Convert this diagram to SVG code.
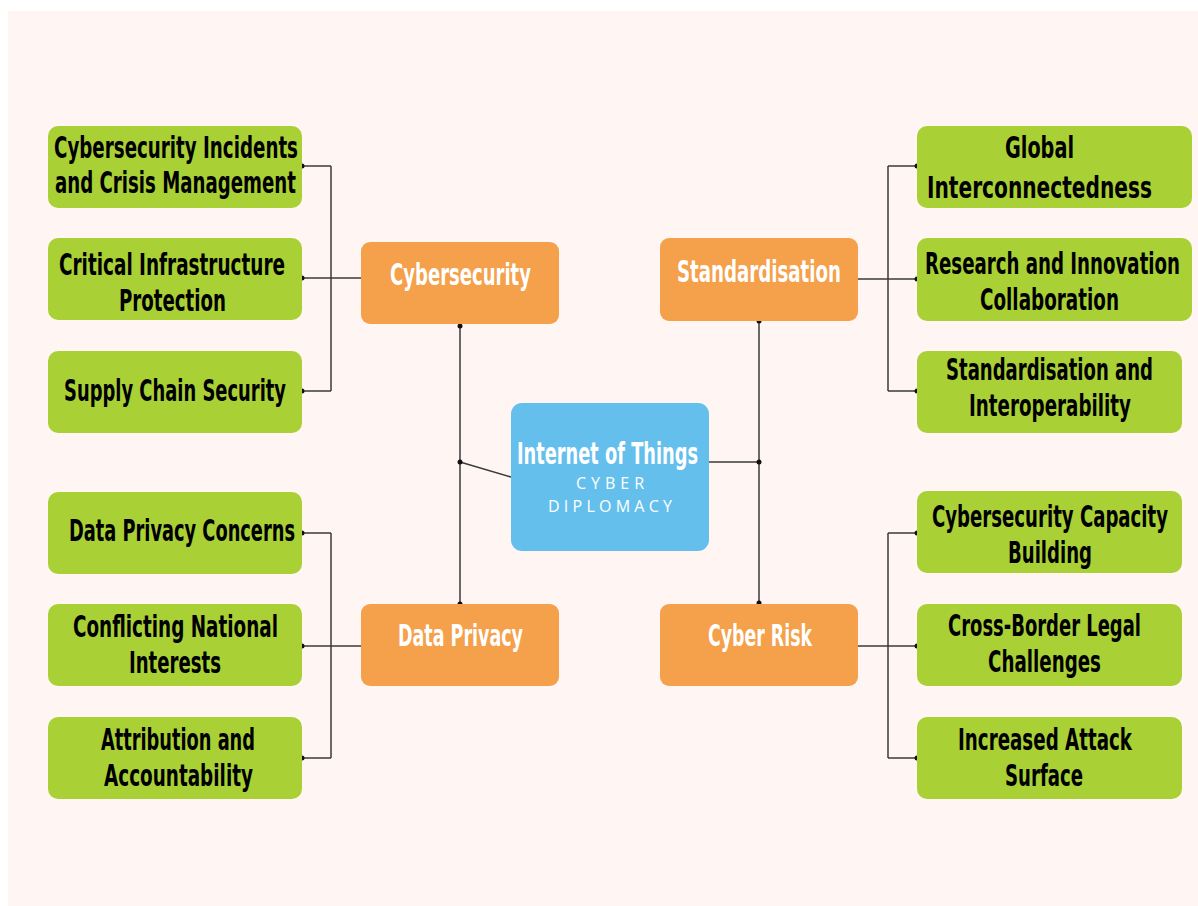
<svg xmlns="http://www.w3.org/2000/svg" width="1198" height="906" viewBox="0 0 1198 906">
<style>
.bg{fill:#FFF6F4}
.g{fill:#A9D136}
.o{fill:#F5A04A}
.b{fill:#65BFEC}
.t{font-family:"Liberation Sans Narrow","DejaVu Sans Condensed","Liberation Sans",sans-serif;font-stretch:condensed;font-weight:bold;font-size:20px}
.k{fill:#000}
.w{fill:#fff}
.s{font-family:"Open Sans","Liberation Sans",sans-serif;font-size:16px;fill:#fff}
.ln{fill:none;stroke:#3a3a3a;stroke-width:1.5}
.dot{fill:#111}
</style>
<rect x="0" y="0" width="1198" height="906" fill="#fff"/>
<rect class="bg" x="8" y="11" width="1190" height="895"/>

<g id="connectors">
<path class="ln" d="M331 166V391M302 166H331M302 278H361M302 391H331"/>
<path class="ln" d="M331 533V758M302 533H331M302 646H361M302 758H331"/>
<path class="ln" d="M888 166V391M888 166H917M858 279H917M888 391H917"/>
<path class="ln" d="M888 533V758M888 533H917M858 646H917M888 758H917"/>
<path class="ln" d="M460 326V604M460 462L511 477M709 462H759M759 321V603"/>
<g class="dot">
<circle cx="302" cy="166" r="2.5"/><circle cx="302" cy="278" r="2.5"/><circle cx="302" cy="391" r="2.5"/>
<circle cx="302" cy="533" r="2.5"/><circle cx="302" cy="646" r="2.5"/><circle cx="302" cy="758" r="2.5"/>
<circle cx="917" cy="166" r="2.5"/><circle cx="917" cy="279" r="2.5"/><circle cx="917" cy="391" r="2.5"/>
<circle cx="917" cy="533" r="2.5"/><circle cx="917" cy="646" r="2.5"/><circle cx="917" cy="758" r="2.5"/>
<circle cx="460" cy="326" r="2.5"/><circle cx="460" cy="604" r="2.5"/><circle cx="460" cy="462" r="2.5"/>
<circle cx="759" cy="462" r="2.5"/><circle cx="759" cy="321" r="2.5"/><circle cx="759" cy="603" r="2.5"/>
</g>
</g>

<g id="center">
<rect class="b" x="511" y="403" width="198" height="148" rx="11"/>
<text class="t w" transform="translate(517 464) scale(1 1.55)" textLength="181" lengthAdjust="spacingAndGlyphs">Internet of Things</text>
<text class="s" x="576" y="489" textLength="68" lengthAdjust="spacing">CYBER</text>
<text class="s" x="548" y="512" textLength="124" lengthAdjust="spacing">DIPLOMACY</text>
</g>

<g id="cybersecurity">
<rect class="o" x="361" y="242" width="198" height="82" rx="9"/>
<text class="t w" transform="translate(390 285) scale(1 1.55)" textLength="141" lengthAdjust="spacingAndGlyphs">Cybersecurity</text>
</g>
<g id="data-privacy">
<rect class="o" x="361" y="604" width="198" height="82" rx="9"/>
<text class="t w" transform="translate(398 646) scale(1 1.55)" textLength="125" lengthAdjust="spacingAndGlyphs">Data Privacy</text>
</g>
<g id="standardisation">
<rect class="o" x="660" y="238" width="198" height="83" rx="9"/>
<text class="t w" transform="translate(677 282) scale(1 1.55)" textLength="164" lengthAdjust="spacingAndGlyphs">Standardisation</text>
</g>
<g id="cyber-risk">
<rect class="o" x="660" y="604" width="198" height="82" rx="9"/>
<text class="t w" transform="translate(708 646) scale(1 1.55)" textLength="104" lengthAdjust="spacingAndGlyphs">Cyber Risk</text>
</g>

<g id="incidents">
<rect class="g" x="48" y="126" width="254" height="82" rx="10"/>
<text class="t k" transform="translate(54 158) scale(1 1.55)" textLength="244" lengthAdjust="spacingAndGlyphs">Cybersecurity Incidents</text>
<text class="t k" transform="translate(55 193) scale(1 1.55)" textLength="241" lengthAdjust="spacingAndGlyphs">and Crisis Management</text>
</g>
<g id="critical-infrastructure">
<rect class="g" x="48" y="238" width="254" height="82" rx="10"/>
<text class="t k" transform="translate(59 275) scale(1 1.55)" textLength="226" lengthAdjust="spacingAndGlyphs">Critical Infrastructure</text>
<text class="t k" transform="translate(119 311) scale(1 1.55)" textLength="107" lengthAdjust="spacingAndGlyphs">Protection</text>
</g>
<g id="supply-chain">
<rect class="g" x="48" y="351" width="254" height="82" rx="10"/>
<text class="t k" transform="translate(64 401) scale(1 1.55)" textLength="222" lengthAdjust="spacingAndGlyphs">Supply Chain Security</text>
</g>
<g id="data-privacy-concerns">
<rect class="g" x="48" y="492" width="254" height="82" rx="10"/>
<text class="t k" transform="translate(69 541) scale(1 1.55)" textLength="226" lengthAdjust="spacingAndGlyphs">Data Privacy Concerns</text>
</g>
<g id="conflicting-interests">
<rect class="g" x="48" y="604" width="254" height="82" rx="10"/>
<text class="t k" transform="translate(73 637) scale(1 1.55)" textLength="205" lengthAdjust="spacingAndGlyphs">Conflicting National</text>
<text class="t k" transform="translate(129 673) scale(1 1.55)" textLength="92" lengthAdjust="spacingAndGlyphs">Interests</text>
</g>
<g id="attribution">
<rect class="g" x="48" y="717" width="254" height="82" rx="10"/>
<text class="t k" transform="translate(101 750) scale(1 1.55)" textLength="154" lengthAdjust="spacingAndGlyphs">Attribution and</text>
<text class="t k" transform="translate(104 786) scale(1 1.55)" textLength="149" lengthAdjust="spacingAndGlyphs">Accountability</text>
</g>

<g id="global-interconnectedness">
<rect class="g" x="917" y="126" width="275" height="82" rx="10"/>
<text class="t k" transform="translate(1005 158) scale(1 1.55)" textLength="69" lengthAdjust="spacingAndGlyphs">Global</text>
<text class="t k" transform="translate(927 198) scale(1 1.55)" textLength="225" lengthAdjust="spacingAndGlyphs">Interconnectedness</text>
</g>
<g id="research-innovation">
<rect class="g" x="917" y="238" width="275" height="83" rx="10"/>
<text class="t k" transform="translate(925 274) scale(1 1.55)" textLength="255" lengthAdjust="spacingAndGlyphs">Research and Innovation</text>
<text class="t k" transform="translate(980 310) scale(1 1.55)" textLength="139" lengthAdjust="spacingAndGlyphs">Collaboration</text>
</g>
<g id="standardisation-interoperability">
<rect class="g" x="917" y="351" width="265" height="82" rx="10"/>
<text class="t k" transform="translate(946 380) scale(1 1.55)" textLength="207" lengthAdjust="spacingAndGlyphs">Standardisation and</text>
<text class="t k" transform="translate(969 416) scale(1 1.55)" textLength="162" lengthAdjust="spacingAndGlyphs">Interoperability</text>
</g>
<g id="capacity-building">
<rect class="g" x="917" y="491" width="265" height="82" rx="10"/>
<text class="t k" transform="translate(932 527) scale(1 1.55)" textLength="236" lengthAdjust="spacingAndGlyphs">Cybersecurity Capacity</text>
<text class="t k" transform="translate(1008 563) scale(1 1.55)" textLength="84" lengthAdjust="spacingAndGlyphs">Building</text>
</g>
<g id="cross-border">
<rect class="g" x="917" y="604" width="265" height="82" rx="10"/>
<text class="t k" transform="translate(948 636) scale(1 1.55)" textLength="193" lengthAdjust="spacingAndGlyphs">Cross-Border Legal</text>
<text class="t k" transform="translate(988 672) scale(1 1.55)" textLength="113" lengthAdjust="spacingAndGlyphs">Challenges</text>
</g>
<g id="attack-surface">
<rect class="g" x="917" y="717" width="265" height="82" rx="10"/>
<text class="t k" transform="translate(958 750) scale(1 1.55)" textLength="174" lengthAdjust="spacingAndGlyphs">Increased Attack</text>
<text class="t k" transform="translate(1005 786) scale(1 1.55)" textLength="78" lengthAdjust="spacingAndGlyphs">Surface</text>
</g>
</svg>
